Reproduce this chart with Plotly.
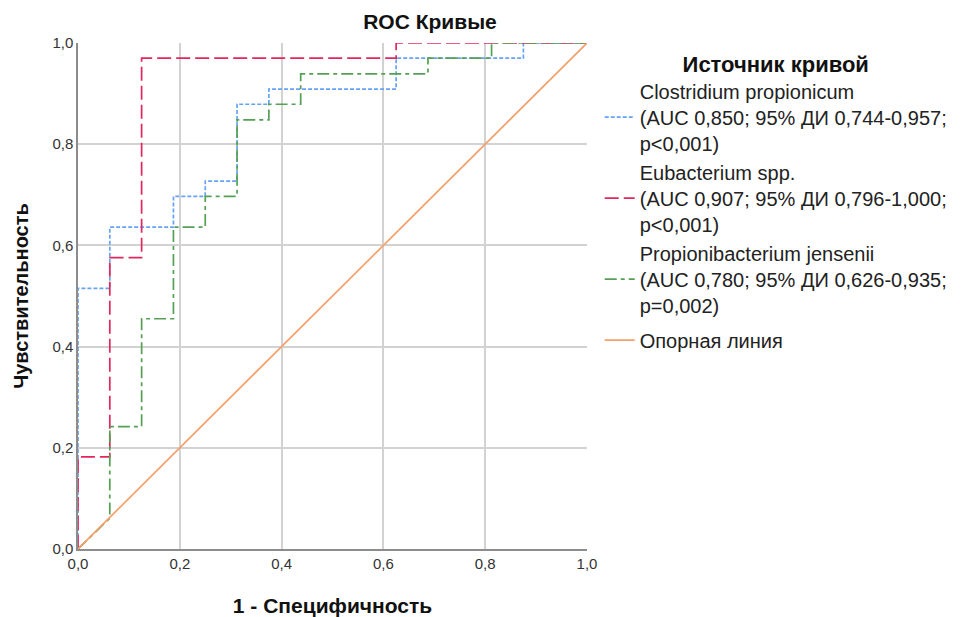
import plotly.graph_objects as go

# ---- data ----
clostridium_fpr = [0, 0, 0.0625, 0.0625, 0.1875, 0.1875, 0.25, 0.25, 0.3125, 0.3125,
                   0.375, 0.375, 0.625, 0.625, 0.875, 0.875, 1.0]
clostridium_tpr = [0, 0.515, 0.515, 0.636, 0.636, 0.697, 0.697, 0.727, 0.727, 0.879,
                   0.879, 0.909, 0.909, 0.970, 0.970, 1.0, 1.0]

eubacterium_fpr = [0, 0, 0.0625, 0.0625, 0.125, 0.125, 0.625, 0.625, 1.0]
eubacterium_tpr = [0, 0.182, 0.182, 0.576, 0.576, 0.970, 0.970, 1.0, 1.0]

propioni_fpr = [0, 0.0625, 0.0625, 0.125, 0.125, 0.1875, 0.1875, 0.25, 0.25, 0.3125,
                0.3125, 0.375, 0.375, 0.4375, 0.4375, 0.6875, 0.6875, 0.8125, 0.8125, 1.0]
propioni_tpr = [0, 0.061, 0.242, 0.242, 0.455, 0.455, 0.636, 0.636, 0.697, 0.697,
                0.848, 0.848, 0.879, 0.879, 0.939, 0.939, 0.970, 0.970, 1.0, 1.0]

reference_x = [0, 1]
reference_y = [0, 1]

series_names = [
    "Clostridium propionicum<br>(AUC 0,850; 95% ДИ 0,744-0,957;<br>p&lt;0,001)",
    "Eubacterium spp.<br>(AUC 0,907; 95% ДИ 0,796-1,000;<br>p&lt;0,001)",
    "Propionibacterium jensenii<br>(AUC 0,780; 95% ДИ 0,626-0,935;<br>p=0,002)",
    "Опорная линия",
]

tick_vals = [0, 0.2, 0.4, 0.6, 0.8, 1.0]
tick_text = ["0,0", "0,2", "0,4", "0,6", "0,8", "1,0"]

FONT = "Liberation Sans, Arial, sans-serif"

fig = go.Figure()
fig.add_trace(go.Scatter(x=clostridium_fpr, y=clostridium_tpr, mode="lines",
                         name=series_names[0], legendgroup="a",
                         line=dict(color="#67A3F3", width=1.7, dash="4px,2px")))
fig.add_trace(go.Scatter(x=eubacterium_fpr, y=eubacterium_tpr, mode="lines",
                         name=series_names[1], legendgroup="a",
                         line=dict(color="#E2275C", width=1.7, dash="14px,5px")))
fig.add_trace(go.Scatter(x=propioni_fpr, y=propioni_tpr, mode="lines",
                         name=series_names[2], legendgroup="a",
                         line=dict(color="#55A055", width=1.7, dash="12px,4px,4px,4px")))
fig.add_trace(go.Scatter(x=reference_x, y=reference_y, mode="lines",
                         name=series_names[3], legendgroup="b",
                         line=dict(color="#F5A06C", width=1.7)))

axis_common = dict(
    range=[0, 1], tickvals=tick_vals, ticktext=tick_text,
    showgrid=True, gridcolor="#D2D2D2", gridwidth=1.5,
    showline=True, linecolor="#8C8C8C", linewidth=1.5,
    zeroline=False, ticks="", automargin=False,
    tickfont=dict(family=FONT, size=15, color="#333333"),
    fixedrange=True,
)

fig.update_layout(
    width=972, height=617,
    margin=dict(l=78, r=385, t=43, b=68),
    paper_bgcolor="white", plot_bgcolor="white",
    font=dict(family=FONT, color="#222222"),
    title=dict(text="<b>ROC Кривые</b>", x=430 / 972, xanchor="center",
               xref="container", y=1 - 22 / 617, yanchor="middle", yref="container",
               font=dict(family=FONT, size=21, color="#111111")),
    xaxis=dict(**axis_common,
               title=dict(text="<b>1 - Специфичность</b>", standoff=28,
                          font=dict(family=FONT, size=21, color="#111111"))),
    yaxis=dict(**axis_common,
               title=dict(text="<b>Чувствительность</b>", standoff=18,
                          font=dict(family=FONT, size=20, color="#111111"))),
    legend=dict(
        x=1.025, xanchor="left", y=1.0, yanchor="top",
        traceorder="grouped", tracegroupgap=6,
        font=dict(family=FONT, size=20, color="#222222"),
        title=dict(text="<b>Источник кривой</b>", side="top center",
                   font=dict(family=FONT, size=22, color="#111111")),
        bgcolor="rgba(0,0,0,0)",
    ),
)

fig.write_html("out.html")
